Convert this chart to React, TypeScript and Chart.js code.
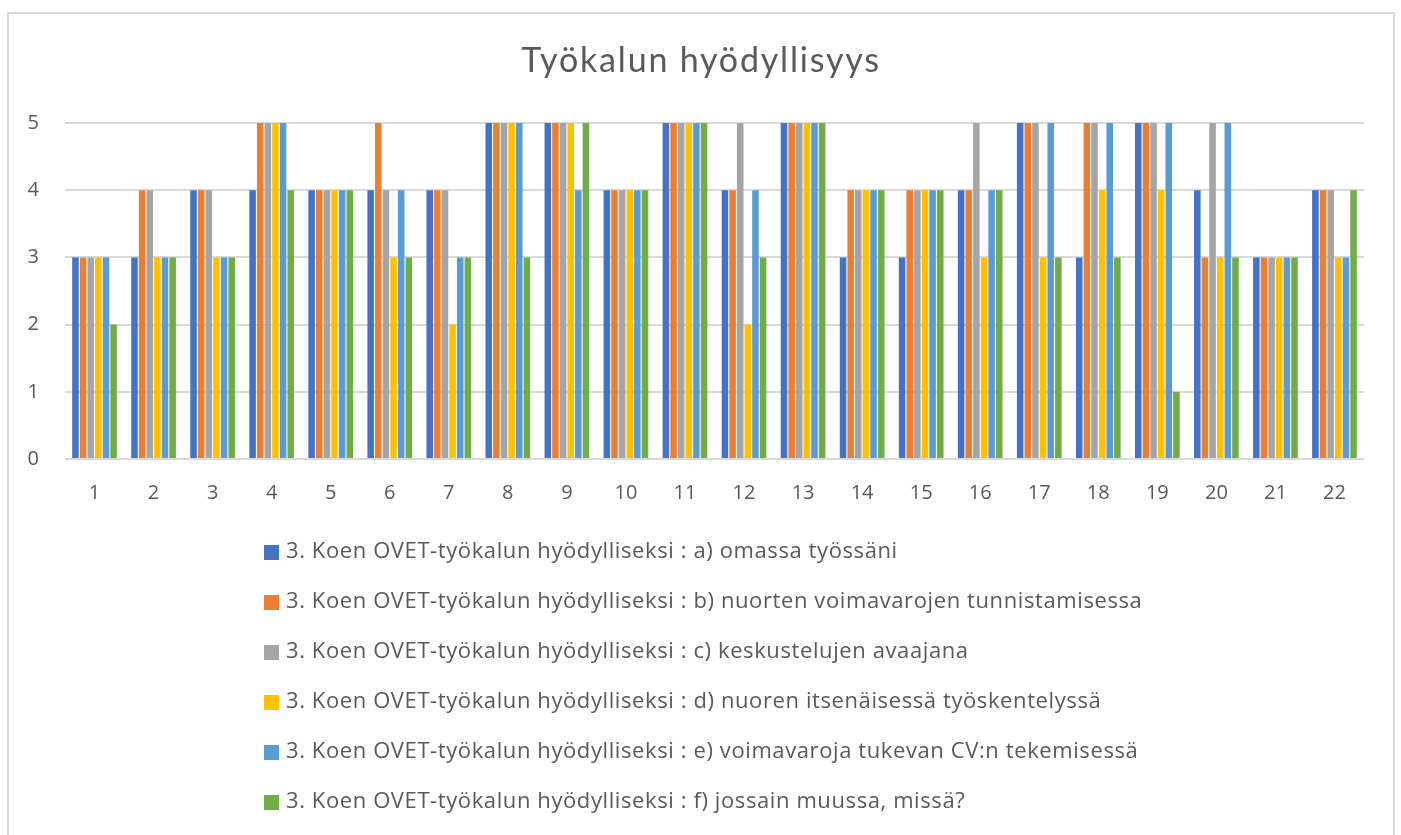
import React, { useEffect, useRef } from "react";
import { Chart, registerables } from "chart.js";

Chart.register(...registerables);

const title = "Työkalun hyödyllisyys";
const categories = ["1", "2", "3", "4", "5", "6", "7", "8", "9", "10", "11", "12", "13", "14", "15", "16", "17", "18", "19", "20", "21", "22"];
const yTicks = [0, 1, 2, 3, 4, 5];

const seriesNames = [
  "3. Koen OVET-työkalun hyödylliseksi : a) omassa työssäni",
  "3. Koen OVET-työkalun hyödylliseksi : b) nuorten voimavarojen tunnistamisessa",
  "3. Koen OVET-työkalun hyödylliseksi : c) keskustelujen avaajana",
  "3. Koen OVET-työkalun hyödylliseksi : d) nuoren itsenäisessä työskentelyssä",
  "3. Koen OVET-työkalun hyödylliseksi : e) voimavaroja tukevan CV:n tekemisessä",
  "3. Koen OVET-työkalun hyödylliseksi : f) jossain muussa, missä?",
];

const seriesA = [3, 3, 4, 4, 4, 4, 4, 5, 5, 4, 5, 4, 5, 3, 3, 4, 5, 3, 5, 4, 3, 4];
const seriesB = [3, 4, 4, 5, 4, 5, 4, 5, 5, 4, 5, 4, 5, 4, 4, 4, 5, 5, 5, 3, 3, 4];
const seriesC = [3, 4, 4, 5, 4, 4, 4, 5, 5, 4, 5, 5, 5, 4, 4, 5, 5, 5, 5, 5, 3, 4];
const seriesD = [3, 3, 3, 5, 4, 3, 2, 5, 5, 4, 5, 2, 5, 4, 4, 3, 3, 4, 4, 3, 3, 3];
const seriesE = [3, 3, 3, 5, 4, 4, 3, 5, 4, 4, 5, 4, 5, 4, 4, 4, 5, 5, 5, 5, 3, 3];
const seriesF = [2, 3, 3, 4, 4, 3, 3, 3, 5, 4, 5, 3, 5, 4, 4, 4, 3, 3, 1, 3, 3, 4];

const seriesValues = [seriesA, seriesB, seriesC, seriesD, seriesE, seriesF];
const colors = ["#4472C4", "#ED7D31", "#A5A5A5", "#FFC000", "#5B9BD5", "#70AD47"];

const TEXT = "#595959";
const GRID = "#d9d9d9";
const SANS = "'Open Sans', 'Noto Sans', sans-serif";

const framePlugin = {
  id: "frame",
  beforeDraw(chart: any) {
    const ctx = chart.ctx;
    ctx.save();
    ctx.fillStyle = "#ffffff";
    ctx.fillRect(0, 0, chart.width, chart.height);
    ctx.strokeStyle = GRID;
    ctx.lineWidth = 2;
    ctx.strokeRect(8, 13, 1386, 900);
    ctx.restore();
  },
};

const headingPlugin = {
  id: "heading",
  afterDraw(chart: any) {
    const ctx = chart.ctx;
    ctx.save();
    ctx.font = `34px Lato, 'Open Sans', sans-serif`;
    (ctx as any).letterSpacing = "1.8px";
    ctx.fillStyle = TEXT;
    ctx.textAlign = "center";
    ctx.textBaseline = "middle";
    ctx.fillText(title, 701, 61);
    ctx.restore();
  },
};

const listLegendPlugin = {
  id: "listLegend",
  afterDraw(chart: any) {
    const ctx = chart.ctx;
    ctx.save();
    ctx.font = `22px ${SANS}`;
    (ctx as any).letterSpacing = "0.6px";
    ctx.textBaseline = "middle";
    ctx.textAlign = "left";
    chart.data.datasets.forEach((ds: any, i: number) => {
      const cy = 552 + i * 50;
      ctx.fillStyle = ds.backgroundColor;
      ctx.fillRect(264, cy - 7, 15, 15);
      ctx.fillStyle = TEXT;
      ctx.fillText(ds.label, 286, cy);
    });
    ctx.restore();
  },
};

export default function App() {
  const ref = useRef<HTMLCanvasElement>(null);

  useEffect(() => {
    if (!ref.current) return;
    const chart = new Chart(ref.current, {
      type: "bar",
      data: {
        labels: categories,
        datasets: seriesValues.map((vals, i) => ({
          label: seriesNames[i],
          data: vals,
          backgroundColor: colors[i],
          borderColor: "#ffffff",
          borderWidth: 0,
          barPercentage: 0.86,
          categoryPercentage: 0.775,
        })),
      },
      options: {
        animation: false,
        responsive: false,
        devicePixelRatio: 1,
        layout: { padding: { left: 8, right: 37, top: 123, bottom: 336 } },
        plugins: {
          legend: { display: false },
          tooltip: { enabled: false },
          title: { display: false },
        },
        scales: {
          x: {
            grid: { display: false, drawTicks: false },
            border: { display: false },
            ticks: { color: TEXT, font: { family: SANS, size: 20 }, padding: 22 },
            afterFit: (s: any) => { s.height = 40; },
          },
          y: {
            min: 0,
            max: 5,
            afterBuildTicks: (s: any) => { s.ticks = yTicks.map((v) => ({ value: v })); },
            grid: { color: GRID, lineWidth: 2, drawTicks: false },
            border: { display: false },
            ticks: { color: TEXT, font: { family: SANS, size: 20 }, padding: 26 },
            afterFit: (s: any) => { s.width = 57; },
          },
        },
      },
      plugins: [framePlugin, headingPlugin, listLegendPlugin],
    });
    return () => chart.destroy();
  }, []);

  return (
    <div style={{ position: "absolute", left: 0, top: 0, width: 1401, height: 835, background: "#fff" }}>
      <canvas ref={ref} width={1401} height={835} />
    </div>
  );
}
